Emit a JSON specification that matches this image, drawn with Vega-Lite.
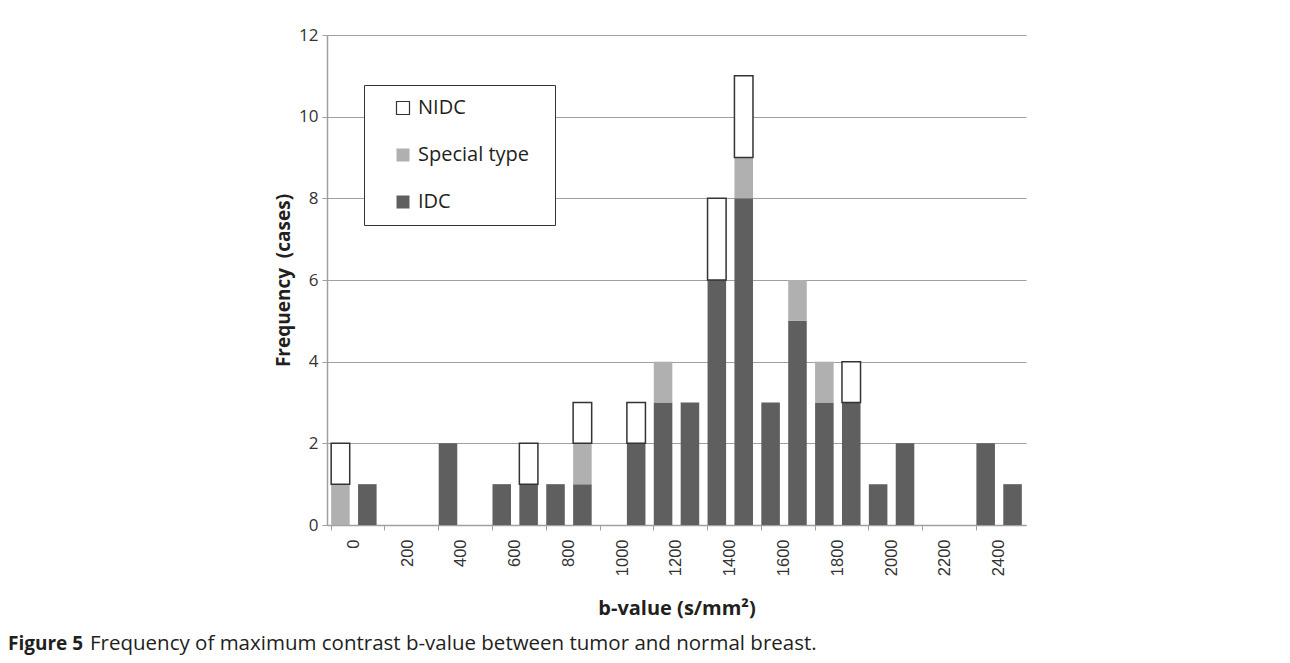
{
  "$schema": "https://vega.github.io/schema/vega-lite/v6.json",
  "autosize": {"type": "none"},
  "width": 699,
  "height": 490,
  "padding": {"left": 327, "top": 35, "right": 264, "bottom": 138},
  "background": "white",
  "title": {
    "text": "Figure 5",
    "subtitle": "\u200b\u2002\u2002\u2002\u2002\u2002\u2002\u2002\u2002Frequency of maximum contrast b-value between tumor and normal breast.",
    "orient": "bottom",
    "anchor": "start",
    "frame": "group",
    "dx": -319,
    "offset": 16,
    "font": "Open Sans",
    "fontSize": 19,
    "fontWeight": "bold",
    "color": "#231f20",
    "subtitleFont": "Open Sans",
    "subtitleFontSize": 20.5,
    "subtitleFontWeight": "normal",
    "subtitleColor": "#231f20",
    "subtitlePadding": -19.5
  },
  "data": {
    "values": [
      {"b": 0, "type": "Special type", "k": 2, "n": 1},
      {"b": 0, "type": "NIDC", "k": 3, "n": 1},
      {"b": 100, "type": "IDC", "k": 1, "n": 1},
      {"b": 400, "type": "IDC", "k": 1, "n": 2},
      {"b": 600, "type": "IDC", "k": 1, "n": 1},
      {"b": 700, "type": "IDC", "k": 1, "n": 1},
      {"b": 700, "type": "NIDC", "k": 3, "n": 1},
      {"b": 800, "type": "IDC", "k": 1, "n": 1},
      {"b": 900, "type": "IDC", "k": 1, "n": 1},
      {"b": 900, "type": "Special type", "k": 2, "n": 1},
      {"b": 900, "type": "NIDC", "k": 3, "n": 1},
      {"b": 1100, "type": "IDC", "k": 1, "n": 2},
      {"b": 1100, "type": "NIDC", "k": 3, "n": 1},
      {"b": 1200, "type": "IDC", "k": 1, "n": 3},
      {"b": 1200, "type": "Special type", "k": 2, "n": 1},
      {"b": 1300, "type": "IDC", "k": 1, "n": 3},
      {"b": 1400, "type": "IDC", "k": 1, "n": 6},
      {"b": 1400, "type": "NIDC", "k": 3, "n": 2},
      {"b": 1500, "type": "IDC", "k": 1, "n": 8},
      {"b": 1500, "type": "Special type", "k": 2, "n": 1},
      {"b": 1500, "type": "NIDC", "k": 3, "n": 2},
      {"b": 1600, "type": "IDC", "k": 1, "n": 3},
      {"b": 1700, "type": "IDC", "k": 1, "n": 5},
      {"b": 1700, "type": "Special type", "k": 2, "n": 1},
      {"b": 1800, "type": "IDC", "k": 1, "n": 3},
      {"b": 1800, "type": "Special type", "k": 2, "n": 1},
      {"b": 1900, "type": "IDC", "k": 1, "n": 3},
      {"b": 1900, "type": "NIDC", "k": 3, "n": 1},
      {"b": 2000, "type": "IDC", "k": 1, "n": 1},
      {"b": 2100, "type": "IDC", "k": 1, "n": 2},
      {"b": 2400, "type": "IDC", "k": 1, "n": 2},
      {"b": 2500, "type": "IDC", "k": 1, "n": 1}
    ]
  },
  "mark": {"type": "bar", "strokeWidth": 1.5},
  "encoding": {
    "x": {
      "field": "b",
      "type": "ordinal",
      "scale": {
        "domain": [0,100,200,300,400,500,600,700,800,900,1000,1100,1200,1300,1400,1500,1600,1700,1800,1900,2000,2100,2200,2300,2400,2500],
        "paddingInner": 0.31,
        "paddingOuter": 0.155
      },
      "axis": {
        "values": [0,200,400,600,800,1000,1200,1400,1600,1800,2000,2200,2400],
        "bandPosition": 0,
        "labelOffset": 13.44,
        "labelAngle": -90,
        "labelFont": "Liberation Sans",
        "labelFontSize": 16.5,
        "labelColor": "#333333",
        "labelPadding": 9,
        "tickSize": 5,
        "tickColor": "#a0a0a0",
        "domainColor": "#a0a0a0",
        "domainWidth": 1.5,
        "grid": false,
        "title": "b-value (s/mm²)",
        "titleFont": "Open Sans",
        "titleFontSize": 20,
        "titleFontWeight": "bold",
        "titleColor": "#231f20",
        "titlePadding": 23
      }
    },
    "y": {
      "field": "n",
      "type": "quantitative",
      "stack": "zero",
      "scale": {"domain": [0, 12], "nice": false},
      "axis": {
        "values": [0,2,4,6,8,10,12],
        "grid": true,
        "gridColor": "#a0a0a0",
        "gridWidth": 1.2,
        "domainColor": "#a0a0a0",
        "domainWidth": 1.5,
        "tickColor": "#a0a0a0",
        "tickSize": 5,
        "labelFont": "Open Sans",
        "labelFontSize": 17,
        "labelColor": "#333333",
        "labelPadding": 4,
        "title": "Frequency\u00a0 (cases)",
        "titleFont": "Open Sans",
        "titleFontSize": 19,
        "titleFontWeight": "bold",
        "titleColor": "#231f20",
        "titlePadding": 5
      }
    },
    "order": {"field": "k", "type": "quantitative", "sort": "ascending"},
    "color": {
      "field": "type",
      "type": "nominal",
      "scale": {
        "domain": ["NIDC", "Special type", "IDC"],
        "range": ["#ffffff", "#b0b0b0", "#5f5f5f"]
      },
      "legend": {
        "title": "ab",
        "titleOrient": "right",
        "titleOpacity": 0,
        "titleFontSize": 8,
        "titlePadding": 3,
        "orient": "none",
        "legendX": 37,
        "legendY": 50,
        "padding": 13,
        "strokeColor": "#333333",
        "fillColor": "#ffffff",
        "symbolType": "square",
        "symbolSize": 169,
        "symbolStrokeWidth": 1.2,
        "symbolOffset": 16,
        "labelFont": "Open Sans",
        "labelFontSize": 20,
        "labelColor": "#231f20",
        "labelOffset": 5,
        "rowPadding": 27
      }
    },
    "stroke": {
      "field": "type",
      "type": "nominal",
      "scale": {
        "domain": ["NIDC", "Special type", "IDC"],
        "range": ["#333333", "transparent", "transparent"]
      },
      "legend": null
    }
  },
  "config": {
    "view": {"stroke": null}
  }
}
